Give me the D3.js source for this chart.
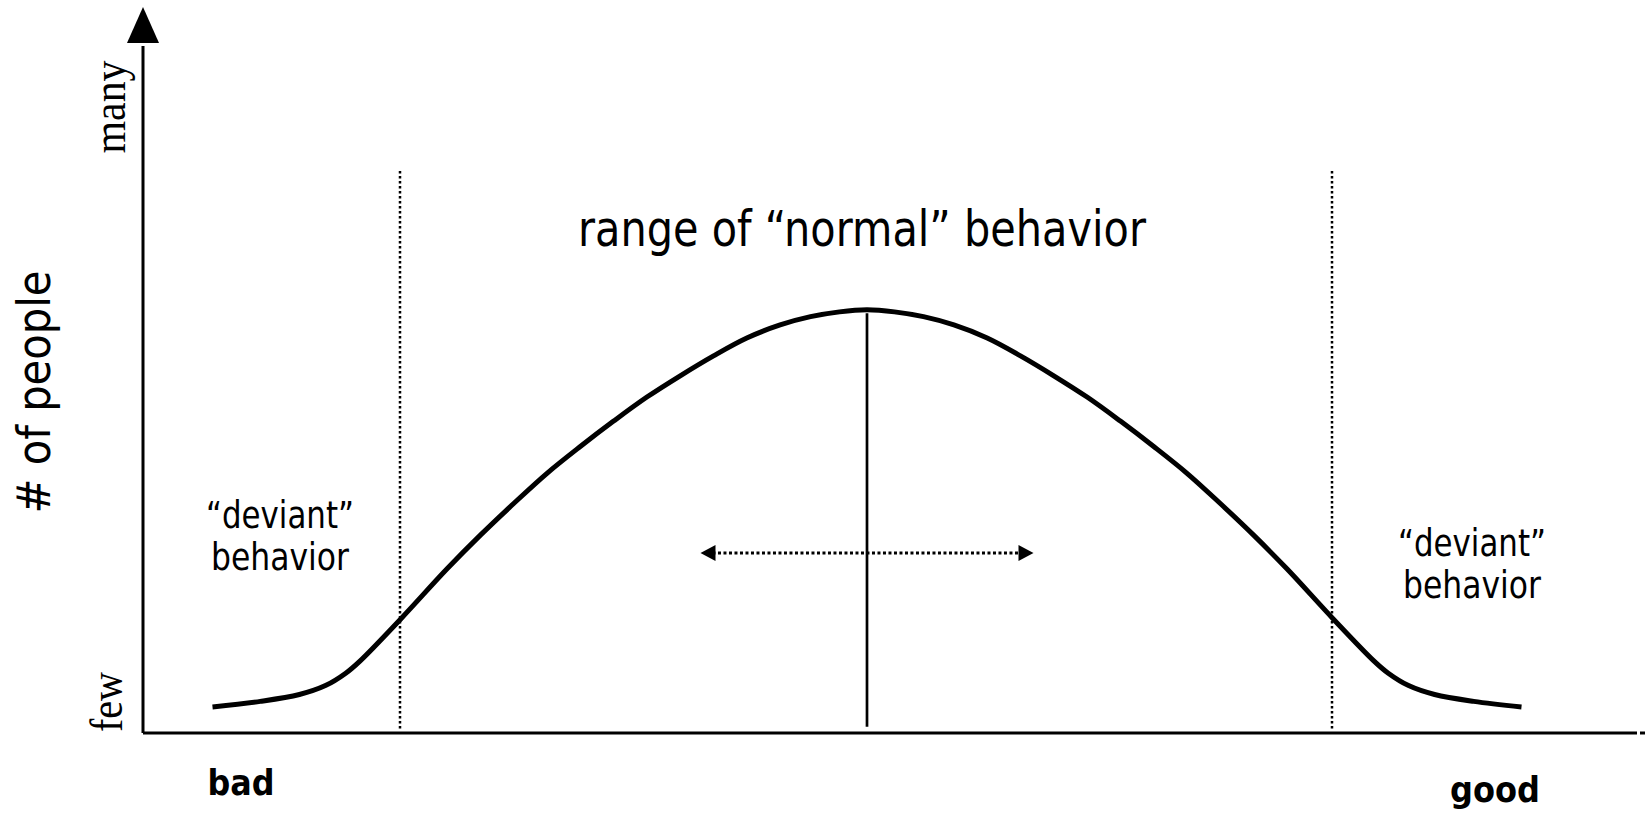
<!DOCTYPE html>
<html>
<head>
<meta charset="utf-8">
<script src="https://cdn.jsdelivr.net/npm/d3@7"></script>
<style>
    html, body { margin: 0; padding: 0; background: #fff; }
    svg { display: block; }
</style>
</head>
<body>
<svg></svg>
<script>
// behaviour score (0 = bad, 100 = good) and share of people (0 = few, 100 = many)
const curveX = [4.8, 8.1, 10.8, 12.6, 14.0, 15.0, 17.8, 21.0, 23.3, 25.6, 27.9, 30.2, 32.5, 34.8, 37.1, 39.4, 41.7, 44.0, 46.1, 48.1, 50.0,
    51.9, 53.9, 56.0, 58.3, 60.6, 62.9, 65.2, 67.5, 69.8, 72.1, 74.4, 76.7, 79.0, 82.2, 85.0, 86.0, 87.4, 89.2, 91.9, 95.2];
const curveY = [3.8, 4.6, 5.6, 6.9, 8.7, 10.5, 16.6, 23.9, 28.8, 33.4, 37.8, 41.7, 45.4, 48.9, 52.0, 54.9, 57.5, 59.4, 60.6, 61.3, 61.6,
    61.3, 60.6, 59.4, 57.5, 54.9, 52.0, 48.9, 45.4, 41.7, 37.8, 33.4, 28.8, 23.9, 16.6, 10.5, 8.7, 6.9, 5.6, 4.6, 3.8];

const normalRange = [17.75, 82.1];
const normalTop = 81.8;
const meanX = 50;
const meanLine = [0.9, 61.1];
const spread = [38.5, 61.5];
const spreadY = 26.2;

const axisEnds = ['few', 'many'];
const poles = ['bad', 'good'];
const regionLabels = ['range of “normal” behavior', '“deviant”', 'behavior'];
const yTitle = '# of people';

const width = 1647;
const height = 817;
const sans = 'DejaVu Sans, Verdana, sans-serif';
const serif = 'Liberation Serif, Times New Roman, serif';

const svg = d3.select('svg')
    .attr('width', width)
    .attr('height', height);

const x = d3.scaleLinear().domain([0, 100]).range([143, 1591]);
const y = d3.scaleLinear().domain([0, 100]).range([733, 46]);

// axes
svg.append('line')
    .attr('x1', x(0)).attr('x2', x(0))
    .attr('y1', y(0)).attr('y2', y(100))
    .style('stroke', '#000')
    .style('stroke-width', 3);

svg.append('path')
    .attr('d', `M${x(0)},7 L${x(0) - 16},43 L${x(0) + 16},43 Z`)
    .style('fill', '#000');

svg.append('line')
    .attr('x1', x(0)).attr('x2', 1637)
    .attr('y1', y(0)).attr('y2', y(0))
    .style('stroke', '#000')
    .style('stroke-width', 3);

svg.append('line')
    .attr('x1', 1640).attr('x2', 1645)
    .attr('y1', y(0)).attr('y2', y(0))
    .style('stroke', '#000')
    .style('stroke-width', 3);

// dotted bounds of the normal range
svg.selectAll('.bound')
    .data(normalRange)
    .enter()
    .append('line')
    .attr('class', 'bound')
    .attr('x1', d => Math.round(x(d))).attr('x2', d => Math.round(x(d)))
    .attr('y1', y(normalTop)).attr('y2', y(0.3))
    .style('stroke', '#000')
    .style('stroke-width', 2.5)
    .style('stroke-dasharray', '2.5,2.5');

// mean line
svg.append('line')
    .attr('x1', x(meanX)).attr('x2', x(meanX))
    .attr('y1', y(meanLine[1])).attr('y2', y(meanLine[0]))
    .style('stroke', '#000')
    .style('stroke-width', 2.7);

// spread arrow
svg.append('line')
    .attr('x1', x(spread[0]) + 12).attr('x2', x(spread[1]) - 12)
    .attr('y1', y(spreadY)).attr('y2', y(spreadY))
    .style('stroke', '#000')
    .style('stroke-width', 3)
    .style('stroke-dasharray', '3,2.5');

const headPath = (tipX, dir) => {
    const ty = y(spreadY);
    return `M${tipX},${ty} L${tipX + dir * 15},${ty - 8} L${tipX + dir * 15},${ty + 8} Z`;
};

svg.append('path').attr('d', headPath(x(spread[0]), 1)).style('fill', '#000');
svg.append('path').attr('d', headPath(x(spread[1]), -1)).style('fill', '#000');

// the distribution curve
const points = curveX.map((v, i) => [v, curveY[i]]);

svg.append('path')
    .datum(points)
    .attr('d', d3.line()
        .x(d => x(d[0]))
        .y(d => y(d[1]))
        .curve(d3.curveCatmullRom.alpha(0.5)))
    .style('fill', 'none')
    .style('stroke', '#000')
    .style('stroke-width', 5)
    .style('stroke-linejoin', 'round');

// text
const addText = (txt, px, py, size, len, opts = {}) => {
    const t = svg.append('text')
        .text(txt)
        .attr('x', px)
        .attr('y', py)
        .attr('text-anchor', opts.anchor || 'middle')
        .attr('textLength', len)
        .attr('lengthAdjust', 'spacingAndGlyphs')
        .style('font-family', opts.family || sans)
        .style('font-weight', opts.weight || 'normal')
        .style('font-size', `${size}px`)
        .style('fill', '#000');
    if (opts.rotate) {
        t.attr('x', 0).attr('y', 0)
            .attr('transform', `translate(${px},${py}) rotate(-90)`);
    }
    return t;
};

addText(regionLabels[0], 862, 246, 49, 568);
addText(regionLabels[1], 280, 528, 37, 148);
addText(regionLabels[2], 280, 570, 37, 138);
addText(regionLabels[1], 1472, 556, 37, 148);
addText(regionLabels[2], 1472, 598, 37, 138);

addText(yTitle, 50, 392, 47, 243, { rotate: true });
addText(axisEnds[1], 125, 107, 46, 93, { rotate: true, family: serif });
addText(axisEnds[0], 122, 702, 46, 60, { rotate: true, family: serif });

addText(poles[0], 241, 795, 36, 67, { weight: 'bold' });
addText(poles[1], 1495, 802, 36, 90, { weight: 'bold' });
</script>
</body>
</html>
